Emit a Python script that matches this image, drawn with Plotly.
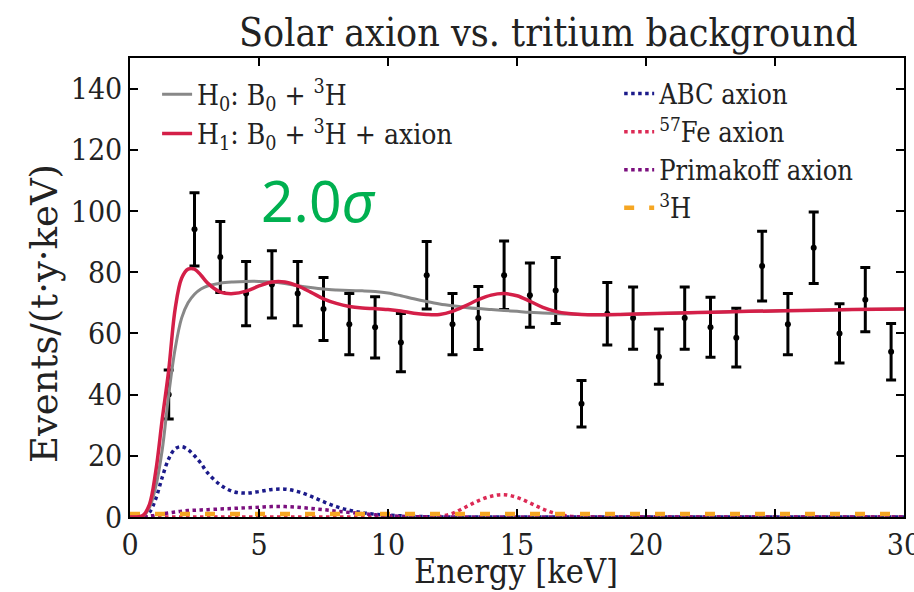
import plotly.graph_objects as go

# Measured spectrum: bin centres, rates and 1-sigma errors
energy_bins = [1.5, 2.5, 3.5, 4.5, 5.5, 6.5, 7.5, 8.5, 9.5, 10.5, 11.5, 12.5, 13.5, 14.5,
               15.5, 16.5, 17.5, 18.5, 19.5, 20.5, 21.5, 22.5, 23.5, 24.5, 25.5, 26.5,
               27.5, 28.5, 29.5]
rates = [40, 94, 85, 73, 76, 73, 68, 63, 62, 57, 79, 63, 65, 79,
         72.5, 74, 37, 66.4, 65, 52.4, 65, 62, 58.6, 82, 63, 88,
         60, 71, 54]
rate_err = [8, 12, 11.6, 10.5, 11, 10.5, 10.3, 10, 10, 9.5, 11, 10, 10.3, 11.2,
            10.5, 10.8, 7.6, 10.2, 10.2, 9, 10.2, 9.8, 9.6, 11.4, 10, 11.7,
            9.7, 10.5, 9.2]

# Model curves sampled on a common energy grid
model_e = [0, 0.5, 0.75, 1.0, 1.25, 1.5, 1.75, 2.0, 2.25, 2.5, 2.75, 3.0, 3.5, 4.0, 4.5,
           5.0, 5.5, 6.0, 6.5, 7.0, 7.5, 8.0, 8.5, 9.0, 9.5, 10.0, 10.5, 11.0, 11.5,
           12.0, 12.5, 13.0, 13.5, 14.0, 14.5, 15.0, 15.5, 16.0, 16.5, 17.0, 17.5,
           18.0, 19.0, 20.0, 22.0, 24.0, 26.0, 28.0, 30.0]
h0_model = [0, 0.3, 3, 10, 22, 40, 55, 65, 70, 72.8, 74.5, 75.5, 76.4, 76.8, 77,
            77, 76.8, 76.3, 75.6, 75, 74.5, 74.2, 74, 73.9, 73.7, 73.2, 72.3, 71.3, 70.4,
            69.6, 69, 68.5, 68.1, 67.8, 67.5, 67.2, 66.9, 66.7, 66.5, 66.3, 66.2,
            66.1, 66.2, 66.4, 66.8, 67.2, 67.5, 67.8, 68.0]
h1_model = [0, 0.5, 4, 15, 32, 48, 68, 78, 81, 81, 79, 76.5, 73.5, 73, 73.8,
            75.5, 76.8, 76.8, 75.5, 73.5, 71.3, 69.8, 68.8, 68.3, 68.1, 67.8, 67.3, 66.6, 66.2,
            66.2, 67.2, 69, 71, 72.5, 73, 72.3, 70.5, 68.5, 67.2, 66.5, 66.2,
            66.1, 66.2, 66.4, 66.8, 67.2, 67.5, 67.8, 68.0]
abc_axion = [0, 0, 1.5, 6, 13, 19, 22.3, 23, 22, 20, 17.5, 14.5, 10.5, 8.3, 7.8,
             8.3, 9, 9.1, 8.3, 6.8, 5, 3.4, 2.2, 1.4, 0.9, 0.6, 0.4, 0.2, 0.1,
             0, 0, 0, 0, 0, 0, 0, 0, 0, 0, 0, 0,
             0, 0, 0, 0, 0, 0, 0, 0]
fe57_axion = [0, 0, 0, 0, 0, 0, 0, 0, 0, 0, 0, 0, 0, 0, 0,
              0, 0, 0, 0, 0, 0, 0, 0, 0, 0, 0, 0, 0, 0,
              0.2, 1.2, 3.2, 5.3, 6.8, 7.3, 6.4, 4.6, 2.6, 1.1, 0.3, 0,
              0, 0, 0, 0, 0, 0, 0, 0]
primakoff_axion = [0, 0, 0.3, 0.6, 1.0, 1.3, 1.6, 1.9, 2.1, 2.2, 2.3, 2.4, 2.6, 2.8, 3.0,
                   3.2, 3.4, 3.4, 3.2, 2.8, 2.4, 1.9, 1.5, 1.1, 0.7, 0.45, 0.25, 0.1, 0.05,
                   0, 0, 0, 0, 0, 0, 0, 0, 0, 0, 0, 0,
                   0, 0, 0, 0, 0, 0, 0, 0]
tritium_e = [0, 5, 10, 15, 20, 25, 30]
tritium = [1.0, 1.0, 1.0, 1.0, 1.0, 1.0, 1.0]

x_ticks = [0, 5, 10, 15, 20, 25, 30]
y_ticks = [0, 20, 40, 60, 80, 100, 120, 140]

SERIF_C = "DejaVu Serif Condensed, DejaVu Serif, serif"
SERIF = "DejaVu Serif, serif"
INK = "#222222"

fig = go.Figure()

# Data points with error bars (drawn first so the model curves sit on top)
fig.add_trace(go.Scatter(
    x=energy_bins, y=rates, mode="markers",
    marker=dict(color="black", size=6),
    error_y=dict(type="data", array=rate_err, color="black", thickness=3, width=5),
    showlegend=False, hoverinfo="skip",
))

# Signal components (right legend)
fig.add_trace(go.Scatter(
    x=model_e, y=abc_axion, mode="lines", line_shape="spline",
    line=dict(color="#1b1a8a", width=3.5, dash="dot"),
    name="ABC axion", legend="legend2", legendgroup="a",
))
fig.add_trace(go.Scatter(
    x=model_e, y=fe57_axion, mode="lines", line_shape="spline",
    line=dict(color="#dc2a55", width=3.5, dash="dot"),
    name="<sup>57</sup>Fe axion", legend="legend2", legendgroup="b",
))
fig.add_trace(go.Scatter(
    x=model_e, y=primakoff_axion, mode="lines", line_shape="spline",
    line=dict(color="#7b0f7e", width=3.5, dash="dot"),
    name="Primakoff axion", legend="legend2", legendgroup="c",
))
fig.add_trace(go.Scatter(
    x=tritium_e, y=tritium, mode="lines",
    line=dict(color="#f5a623", width=4.5, dash="10px,15px"),
    name="<sup>3</sup>H", legend="legend2", legendgroup="d",
))

# Hypothesis fits (left legend)
fig.add_trace(go.Scatter(
    x=model_e, y=h0_model, mode="lines", line_shape="spline",
    line=dict(color="#888888", width=3),
    name="H<sub>0</sub>: B<sub>0</sub> + <sup>3</sup>H", legend="legend", legendgroup="h0",
))
fig.add_trace(go.Scatter(
    x=model_e, y=h1_model, mode="lines", line_shape="spline",
    line=dict(color="#d41f48", width=3.5),
    name="H<sub>1</sub>: B<sub>0</sub> + <sup>3</sup>H + axion", legend="legend", legendgroup="h1",
))

axis_common = dict(
    showline=True, linecolor="black", linewidth=1.5, mirror="ticks",
    ticks="inside", ticklen=8, tickwidth=1.5, tickcolor="black",
    showgrid=False, zeroline=False, ticklabeloverflow="allow", automargin=False,
    tickfont=dict(family=SERIF_C, size=30, color=INK),
)

fig.update_layout(
    width=914, height=592,
    margin=dict(l=130, r=10, t=58, b=75),
    paper_bgcolor="white", plot_bgcolor="white",
    title=dict(text="Solar axion vs. tritium background", x=0.6, xanchor="center",
               y=0.945, yanchor="middle",
               font=dict(family=SERIF_C, size=39, color=INK)),
    xaxis=dict(range=[0, 30], tickvals=x_ticks, **axis_common),
    yaxis=dict(range=[0, 150], tickvals=y_ticks, **axis_common),
    legend=dict(x=0.035, y=0.975, xanchor="left", yanchor="top",
                bgcolor="rgba(255,255,255,0)", borderwidth=0,
                font=dict(family=SERIF_C, size=28, color=INK),
                traceorder="grouped", tracegroupgap=0),
    legend2=dict(x=0.632, y=0.975, xanchor="left", yanchor="top",
                 bgcolor="rgba(255,255,255,0)", borderwidth=0,
                 font=dict(family=SERIF_C, size=27, color=INK),
                 traceorder="grouped", tracegroupgap=0),
    annotations=[
        # axis titles
        dict(x=0.499, y=0, xref="paper", yref="paper", yanchor="middle", yshift=-54,
             text="Energy [keV]", showarrow=False,
             font=dict(family=SERIF_C, size=34, color=INK)),
        dict(x=0, y=0.442, xref="paper", yref="paper", xanchor="center", xshift=-86,
             text="Events/(t·y·keV)", textangle=-90, showarrow=False,
             font=dict(family=SERIF, size=37, color=INK)),
        # significance label
        dict(x=7.3, y=103.5, xref="x", yref="y", text="2.0<i>σ</i>", showarrow=False,
             font=dict(family="Noto Sans, sans-serif", size=57, color="#00b050")),
    ],
)

fig.write_html("out.html")
